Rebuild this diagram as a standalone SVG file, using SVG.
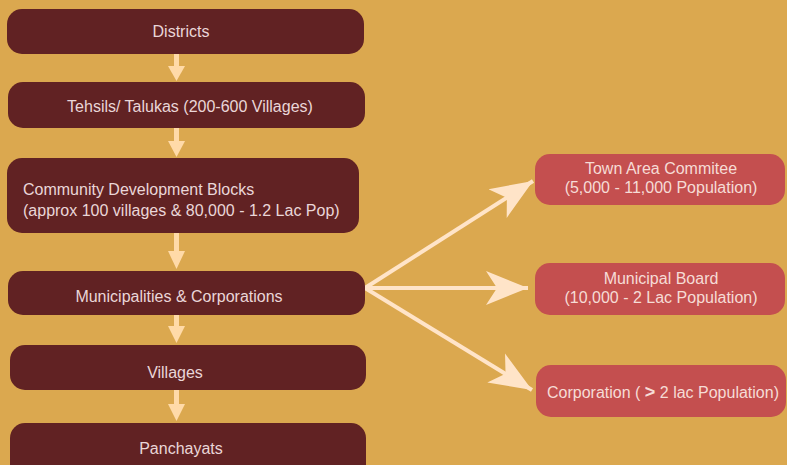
<svg xmlns="http://www.w3.org/2000/svg" width="787" height="465" viewBox="0 0 787 465">
<style>
.bg{fill:#DBA84F}
.dk{fill:#612223}
.rd{fill:#C44F4F}
.t{font-family:"Liberation Sans",Arial,sans-serif;font-size:16px;fill:#EAD6D8}
.tr{font-family:"Liberation Sans",Arial,sans-serif;font-size:16px;fill:#F6DCD6}
.v{stroke:#FFDAA8;stroke-width:5;fill:none}
.d{stroke:#FFE4C8;stroke-width:4;fill:none}
.vh{fill:#FFDAA8}
.dh{fill:#FFE4C8}
</style>
<defs>
<marker id="big" markerUnits="userSpaceOnUse" viewBox="-42 -18 44 36" refX="0" refY="0" markerWidth="44" markerHeight="36" orient="auto">
<path class="dh" d="M0,0 L-42,-17 L-31,0 L-42,17 z"/>
</marker>
</defs>
<rect class="bg" x="0" y="0" width="787" height="465"/>
<g id="connectors">
<line class="v" x1="176.5" y1="54" x2="176.5" y2="68"/>
<path class="vh" d="M168,66 L185,66 L176.5,81 z"/>
<line class="v" x1="176.5" y1="128" x2="176.5" y2="143"/>
<path class="vh" d="M168,141 L185,141 L176.5,157 z"/>
<line class="v" x1="176.5" y1="233" x2="176.5" y2="253"/>
<path class="vh" d="M168,251 L185,251 L176.5,269 z"/>
<line class="v" x1="176.5" y1="315" x2="176.5" y2="328"/>
<path class="vh" d="M168,326 L185,326 L176.5,343 z"/>
<line class="v" x1="176.5" y1="390" x2="176.5" y2="406"/>
<path class="vh" d="M168,404 L185,404 L176.5,421 z"/>
<line class="d" x1="365" y1="288" x2="533" y2="181" marker-end="url(#big)"/>
<line class="d" x1="365" y1="288" x2="528" y2="288" marker-end="url(#big)"/>
<line class="d" x1="365" y1="288" x2="532" y2="390" marker-end="url(#big)"/>
</g>
<g id="districts">
<rect class="dk" x="7" y="9" width="357" height="45" rx="15"/>
<text class="t" x="181" y="37" text-anchor="middle">Districts</text>
</g>
<g id="tehsils">
<rect class="dk" x="8" y="82" width="357" height="46" rx="15"/>
<text class="t" x="190" y="112" text-anchor="middle">Tehsils/ Talukas (200-600 Villages)</text>
</g>
<g id="cdb">
<rect class="dk" x="7" y="158" width="352" height="75" rx="15"/>
<text class="t" x="23" y="195">Community Development Blocks</text>
<text class="t" x="23" y="216">(approx 100 villages &amp; 80,000 - 1.2 Lac Pop)</text>
</g>
<g id="municipalities">
<rect class="dk" x="8" y="271" width="357" height="44" rx="15"/>
<text class="t" x="179" y="302" text-anchor="middle">Municipalities &amp; Corporations</text>
</g>
<g id="villages">
<rect class="dk" x="10" y="345" width="356" height="45" rx="15"/>
<text class="t" x="175" y="378" text-anchor="middle">Villages</text>
</g>
<g id="panchayats">
<rect class="dk" x="10" y="423" width="356" height="60" rx="15"/>
<text class="t" x="181" y="454" text-anchor="middle">Panchayats</text>
</g>
<g id="town">
<rect class="rd" x="535" y="154" width="250" height="51" rx="15"/>
<text class="tr" x="661" y="174" text-anchor="middle">Town Area Commitee</text>
<text class="tr" x="661" y="193" text-anchor="middle">(5,000 - 11,000 Population)</text>
</g>
<g id="board">
<rect class="rd" x="535" y="263" width="250" height="52" rx="15"/>
<text class="tr" x="661" y="284" text-anchor="middle">Municipal Board</text>
<text class="tr" x="661" y="303" text-anchor="middle">(10,000 - 2 Lac Population)</text>
</g>
<g id="corporation">
<rect class="rd" x="536" y="365" width="250" height="52" rx="15"/>
<text class="tr" x="663" y="398" text-anchor="middle">Corporation ( <tspan font-weight="bold" font-size="18">&gt;</tspan> 2 lac Population)</text>
</g>
</svg>
